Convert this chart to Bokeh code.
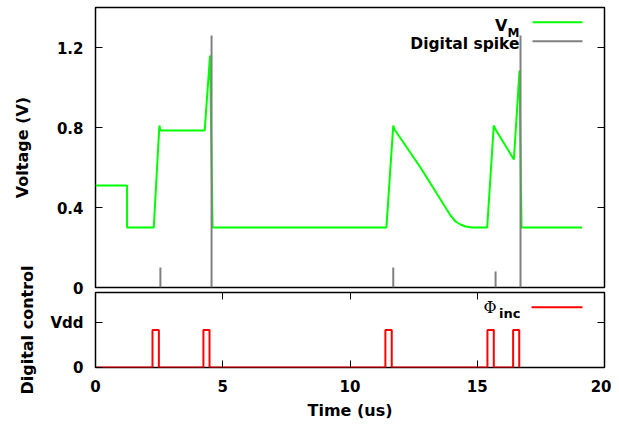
from bokeh.plotting import figure
from bokeh.models import LinearAxis, FixedTicker, Label, Range1d, CustomJSTickFormatter
from bokeh.layouts import column
from bokeh.embed import file_html
from bokeh.resources import INLINE

# ---------------- data ----------------
# membrane voltage V_M (time in us, volts)
vm_t = [0.0, 1.24, 1.24, 2.29, 2.51, 2.55, 4.29, 4.50, 4.60, 11.43, 11.70, 11.75,
        12.77, 13.95, 14.15, 14.34, 14.54, 14.80, 15.39, 15.65, 15.72, 16.44,
        16.66, 16.74, 19.12]
vm_v = [0.51, 0.51, 0.30, 0.30, 0.81, 0.785, 0.785, 1.16, 0.30, 0.30, 0.81, 0.79,
        0.60, 0.36, 0.33, 0.315, 0.305, 0.30, 0.30, 0.81, 0.79, 0.64,
        1.085, 0.30, 0.30]

# digital spike events
spike_t = [2.55, 4.56, 11.70, 15.72, 16.70]
spike_h = [0.10, 1.26, 0.10, 0.08, 1.26]

# Phi_inc control pulses
pulse_start = [2.24, 4.24, 11.39, 15.40, 16.41]
pulse_end = [2.49, 4.48, 11.64, 15.65, 16.65]
pulse_high = 1.0

x_ticks = [0, 5, 10, 15, 20]
v_ticks = [0, 0.4, 0.8, 1.2]
v_labels = {0: "0"}
d_ticks = [0, 1.2]
d_labels = {0: "0", 1.2: "Vdd"}

# build step series for pulses
ph_t, ph_v = [0.0], [0.0]
for s, e in zip(pulse_start, pulse_end):
    ph_t += [s, s, e, e]
    ph_v += [0.0, pulse_high, pulse_high, 0.0]

FONT = "DejaVu Sans"
TICK_FS = "15px"
LAB_FS = "16px"

LEFT, RIGHT = 95, 7
W = LEFT + 509 + RIGHT
X0, X1 = 0, 20
Y1TOP = 1.4
Y2TOP = 2.0


def mirror_axis(ticks):
    return LinearAxis(ticker=FixedTicker(ticks=ticks),
                      formatter=CustomJSTickFormatter(code="return ''"),
                      major_label_text_font_size="1px",
                      major_tick_in=7, major_tick_out=0, minor_tick_in=0, minor_tick_out=0,
                      axis_line_color=None, major_label_standoff=0, axis_label_standoff=0,
                      major_tick_line_color="black", major_tick_line_width=1)


def style_main(ax, ticks, overrides, standoff):
    ax.ticker = FixedTicker(ticks=ticks)
    if overrides:
        ax.major_label_overrides = overrides
    ax.major_tick_in = 7
    ax.major_tick_out = 0
    ax.minor_tick_in = 0
    ax.minor_tick_out = 0
    ax.axis_line_color = None
    ax.major_tick_line_color = "black"
    ax.major_label_text_font = FONT
    ax.major_label_text_font_style = "bold"
    ax.major_label_text_font_size = TICK_FS
    ax.major_label_text_color = "black"
    ax.major_label_standoff = standoff
    ax.axis_label_text_font = FONT
    ax.axis_label_text_font_style = "bold"
    ax.axis_label_text_font_size = LAB_FS
    ax.axis_label_text_color = "black"


# ---------------- top panel ----------------
TOP_H = 297
p1 = figure(width=W, height=TOP_H, x_range=Range1d(X0, X1), y_range=Range1d(0, Y1TOP),
            output_backend="svg", toolbar_location=None, x_axis_location=None,
            min_border_left=LEFT, min_border_right=RIGHT, min_border_top=7, min_border_bottom=10)
p1.grid.visible = False
p1.outline_line_color = "black"
p1.outline_line_width = 1.5
style_main(p1.yaxis[0], v_ticks, v_labels, 12)
p1.yaxis[0].axis_label = "Voltage (V)"
p1.yaxis[0].axis_label_standoff = 22
p1.add_layout(mirror_axis(v_ticks), "right")

p1.line(vm_t, vm_v, line_color="#00ff00", line_width=2)
p1.segment(x0=spike_t, y0=[0] * len(spike_t), x1=spike_t, y1=spike_h,
           line_color="#808080", line_width=2)

# legend (positions given in picture pixels, converted to data units)
fx = lambda px: (px - LEFT) * (X1 - X0) / 509
fy1 = lambda py: (287 - py) * Y1TOP / 280
fy2 = lambda py: (367 - py) * Y2TOP / 75

p1.add_layout(Label(x=fx(507), y=fy1(25), text="V", text_align="right", text_baseline="alphabetic",
                    text_font=FONT, text_font_style="bold", text_font_size="16px", text_color="black"))
p1.add_layout(Label(x=fx(519), y=fy1(32), text="M", text_align="right", text_baseline="alphabetic",
                    text_font=FONT, text_font_style="bold", text_font_size="12px", text_color="black"))
p1.add_layout(Label(x=fx(519), y=fy1(43), text="Digital spike", text_align="right",
                    text_baseline="alphabetic", text_font=FONT, text_font_style="bold",
                    text_font_size="15.5px", text_color="black"))
p1.line([fx(532), fx(582)], [fy1(21.7)] * 2, line_color="#00ff00", line_width=2)
p1.line([fx(532), fx(582)], [fy1(40.7)] * 2, line_color="#808080", line_width=2)

# ---------------- bottom panel ----------------
OVER = 50
B_TOP = 292 - (TOP_H - OVER)
p2 = figure(width=W, height=B_TOP + 75 + 56, x_range=p1.x_range, y_range=Range1d(0, Y2TOP),
            output_backend="svg", toolbar_location=None,
            min_border_left=LEFT, min_border_right=RIGHT, min_border_top=B_TOP,
            min_border_bottom=56)
p2.margin = (-OVER, 0, 0, 0)
p2.border_fill_color = None
p2.grid.visible = False
p2.outline_line_color = "black"
p2.outline_line_width = 1.5
style_main(p2.yaxis[0], d_ticks, d_labels, 12)
p2.yaxis[0].axis_label = "Digital control"
p2.yaxis[0].axis_label_standoff = 10
style_main(p2.xaxis[0], x_ticks, None, 12)
p2.xaxis[0].axis_label = "Time (us)"
p2.xaxis[0].axis_label_standoff = 6
p2.add_layout(mirror_axis(d_ticks), "right")
p2.add_layout(mirror_axis(x_ticks), "above")

p2.line(ph_t, ph_v, line_color="#ff0000", line_width=2)

p2.add_layout(Label(x=fx(496), y=fy2(307), text="Φ", text_align="right", text_baseline="alphabetic",
                    text_font="DejaVu Serif", text_font_size="16px", text_color="black"))
p2.add_layout(Label(x=fx(520), y=fy2(313), text="inc", text_align="right", text_baseline="alphabetic",
                    text_font=FONT, text_font_style="bold", text_font_size="13px", text_color="black"))
p2.line([fx(531), fx(582)], [fy2(306.7)] * 2, line_color="#ff0000", line_width=2)

layout = column(p1, p2, spacing=0)
open("out.html", "w").write(file_html(layout, INLINE))
